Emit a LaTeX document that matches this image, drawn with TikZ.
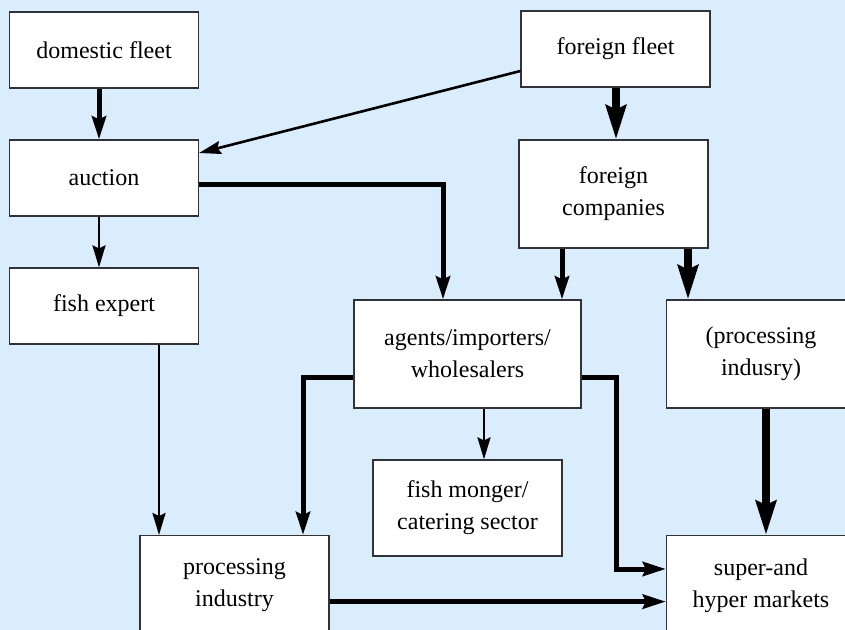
\documentclass[tikz,border=0pt]{standalone}
\usepackage{fontspec}
\IfFontExistsTF{LiberationSerif-Regular.ttf}
  {\newfontfamily\timesfont{LiberationSerif-Regular.ttf}}
  {\newfontfamily\timesfont{DejaVu Serif}[Scale=0.86]}
\usepackage{xcolor}
\usepackage{tikz}
\usetikzlibrary{arrows.meta, positioning}
\definecolor{skyback}{RGB}{218,237,252}
\definecolor{boxline}{RGB}{50,50,55}

\begin{document}
\begin{tikzpicture}[x=0.5pt, y=-0.5pt, font=\timesfont\fontsize{12}{16}\selectfont,
  box/.style={draw=boxline, fill=white, line width=0.6pt, align=center,
              minimum width=94.5pt, minimum height=38pt, inner sep=0pt},
  tall/.style={box, minimum height=54pt},
  thin/.style={-{Stealth[length=11pt, width=6.5pt, inset=1.5pt]}, line width=1.3pt},
  med/.style={-{Stealth[length=11.5pt, width=7pt, inset=1.5pt]}, line width=2.5pt},
  bold/.style={-{Stealth[length=17pt, width=10pt, inset=2pt]}, line width=3.6pt}
]
\useasboundingbox (0,0) rectangle (845,630);
\clip (0,0) rectangle (845,630);
\fill[skyback] (0,0) rectangle (845,630);

\node[box] (dom) at (104,50)    {domestic fleet};
\node[box] (ff)  at (615.5,49)  {foreign fleet};
\node[box] (auc) at (104,178)   {auction};
\node[box] (fe)  at (104,306)   {fish expert};
\node[tall] (fc) at (613.5,194) {foreign\\companies};
\node[tall, minimum width=113.5pt] (ag) at (467.5,354) {agents/importers/\\wholesalers};
\node[tall] (pin) at (761,354)  {(processing\\indusry)};
\node[box, minimum height=48pt] (fm) at (467.5,508) {fish monger/\\catering sector};
\node[box, minimum height=50pt, anchor=north] (pi) at (234.5,535) {processing\\industry};
\node[box, minimum height=50pt, anchor=north] (sm) at (761,535)   {super-and\\hyper markets};

\coordinate (bend) at (616,569);

% straight flows
\draw[med]  ([xshift=-2.5pt]dom.south) -- ([xshift=-2.5pt]auc.north);
\draw[thin] ([xshift=-2.5pt]auc.south) -- ([xshift=-2.5pt]fe.north);
\draw[thin] ([yshift=-11pt]ff.west) -- ([yshift=12.5pt]auc.east);
\draw[bold] ([xshift=0.25pt]ff.south) -- ([xshift=1.25pt]fc.north);
\draw[med]  ([xshift=-25.75pt]fc.south) -- ([xshift=47.25pt]ag.north);
\draw[bold] ([xshift=37.25pt]fc.south) -- ([xshift=-36.5pt]pin.north);
\draw[thin] ([xshift=8.25pt]ag.south) -- ([xshift=8.25pt]fm.north);
\draw[thin] ([xshift=27.5pt]fe.south) -- ([xshift=-37.75pt]pi.north);
\draw[bold, line width=4pt] ([xshift=2.5pt]pin.south) -- ([xshift=2.5pt]sm.north);
\draw[med]  ([yshift=-8pt]pi.east) -- ([yshift=-8pt]sm.west);

% bent flows
\draw[med] ([yshift=-3.5pt]auc.east) -| ([xshift=-12.25pt]ag.north);
\draw[med] ([yshift=-11.5pt]ag.west) -| ([xshift=34.25pt]pi.north);
\draw[med] ([yshift=-11.5pt]ag.east) -| (bend) -- (bend -| sm.west);
\end{tikzpicture}
\end{document}
